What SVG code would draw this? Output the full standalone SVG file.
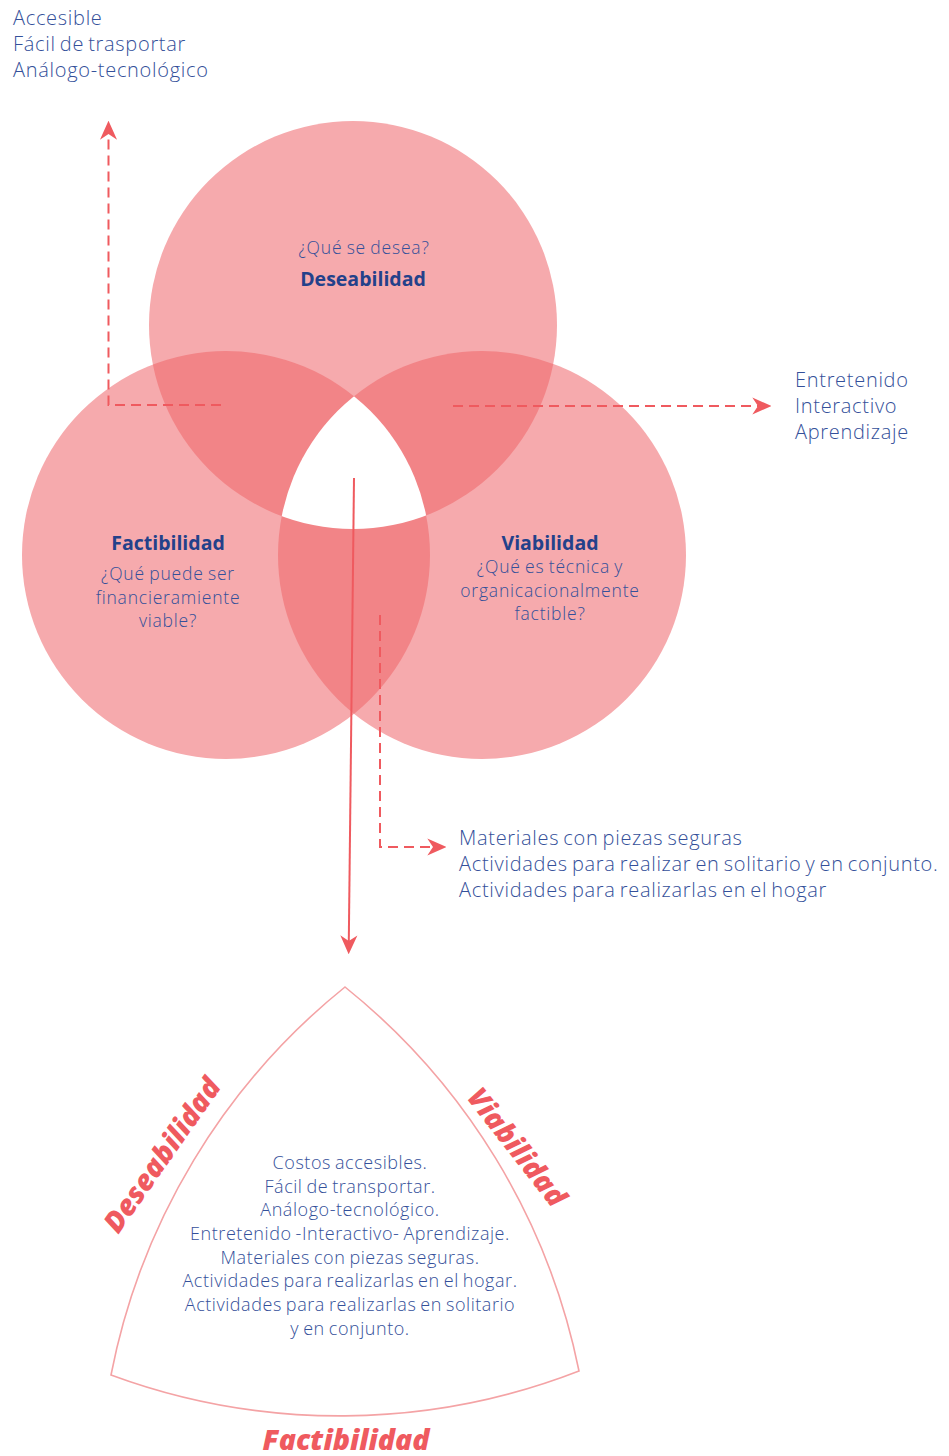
<svg xmlns="http://www.w3.org/2000/svg" width="949" height="1456" viewBox="0 0 949 1456">
<style>
.light{fill:#f6aaad}
.dark{fill:#f28487}
.t{font-family:"Open Sans","Liberation Sans",sans-serif;font-weight:300;fill:#34509a}
.n{letter-spacing:0.7px;word-spacing:-1.8px}
.c{letter-spacing:0.8px;word-spacing:-1px}
.i{letter-spacing:0.55px;word-spacing:-1.2px}
.b{font-family:"Open Sans","Liberation Sans",sans-serif;font-weight:700;fill:#23418a}
.lbl{font-family:"Open Sans","Liberation Sans",sans-serif;font-weight:800;font-style:italic;fill:#ef5a5f;font-size:28.5px}
.dash{fill:none;stroke:#ef5a5f;stroke-width:2;stroke-dasharray:10 6}
.solid{fill:none;stroke:#ef5a5f;stroke-width:2}
</style>
<defs>
<clipPath id="cT"><circle cx="353" cy="325" r="204"/></clipPath>
<clipPath id="cL"><circle cx="226" cy="555" r="204"/></clipPath>
<marker id="arr" viewBox="0 0 20 20" refX="6" refY="10" markerWidth="19" markerHeight="19" markerUnits="userSpaceOnUse" orient="auto">
<path d="M0,1 L20,10 L0,19 L6,10 Z" fill="#ef5a5f"/>
</marker>
</defs>

<g id="note-top-left" class="t n" font-size="20">
<text x="13" y="25">Accesible</text>
<text x="13" y="51">Fácil de trasportar</text>
<text x="13" y="77">Análogo-tecnológico</text>
</g>

<g id="node-deseabilidad">
<circle class="light" cx="353" cy="325" r="204"/>
<text class="t c" x="364" y="254" font-size="17.5" text-anchor="middle">¿Qué se desea?</text>
<text class="b" x="363" y="286" font-size="19.5" text-anchor="middle">Deseabilidad</text>
</g>

<g id="node-factibilidad">
<circle class="light" cx="226" cy="555" r="204"/>
<text class="b" x="168" y="550" font-size="19.5" text-anchor="middle">Factibilidad</text>
<text class="t c" x="168" y="580" font-size="17.5" text-anchor="middle">¿Qué puede ser</text>
<text class="t c" x="168" y="604" font-size="17.5" text-anchor="middle">financieramiente</text>
<text class="t c" x="168" y="627" font-size="17.5" text-anchor="middle">viable?</text>
</g>

<g id="node-viabilidad">
<circle class="light" cx="482" cy="555" r="204"/>
<text class="b" x="550" y="550" font-size="19.5" text-anchor="middle">Viabilidad</text>
<text class="t c" x="550" y="573" font-size="17.5" text-anchor="middle">¿Qué es técnica y</text>
<text class="t c" x="550" y="597" font-size="17.5" text-anchor="middle">organicacionalmente</text>
<text class="t c" x="550" y="620" font-size="17.5" text-anchor="middle">factible?</text>
</g>

<g id="overlaps">
<circle class="dark" cx="226" cy="555" r="204" clip-path="url(#cT)"/>
<circle class="dark" cx="482" cy="555" r="204" clip-path="url(#cT)"/>
<circle class="dark" cx="482" cy="555" r="204" clip-path="url(#cL)"/>
<g clip-path="url(#cT)"><circle fill="#ffffff" cx="482" cy="555" r="204" clip-path="url(#cL)"/></g>
</g>

<g id="note-right" class="t n" font-size="20">
<text x="795" y="387">Entretenido</text>
<text x="795" y="413">Interactivo</text>
<text x="795" y="439">Aprendizaje</text>
</g>

<g id="note-bottom" class="t n" font-size="20">
<text x="459" y="845">Materiales con piezas seguras</text>
<text x="459" y="871">Actividades para realizar en solitario y en conjunto.</text>
<text x="459" y="897">Actividades para realizarlas en el hogar</text>
</g>

<g id="connectors">
<path class="dash" d="M221,405 H108.5 V134" marker-end="url(#arr)"/>
<path class="dash" d="M453,406 H758" marker-end="url(#arr)"/>
<path class="dash" d="M380,615 V847 H433" marker-end="url(#arr)"/>
<path class="solid" d="M354,478 L348.8,941" marker-end="url(#arr)"/>
</g>

<g id="node-result">
<path d="M345,987 A660,660 0 0 0 111,1375 A660,660 0 0 0 579,1371 A660,660 0 0 0 345,987 Z" fill="#ffffff" stroke="#f4a3a5" stroke-width="1.6"/>
<text class="lbl" transform="translate(162,1155) rotate(-55)" x="0" y="10" text-anchor="middle">Deseabilidad</text>
<text class="lbl" transform="translate(517,1147) rotate(52)" x="0" y="10" text-anchor="middle">Viabilidad</text>
<text class="lbl" x="346" y="1450" text-anchor="middle">Factibilidad</text>
<g class="t i" font-size="18" text-anchor="middle">
<text x="350" y="1169">Costos accesibles.</text>
<text x="350" y="1193">Fácil de transportar.</text>
<text x="350" y="1216">Análogo-tecnológico.</text>
<text x="350" y="1240">Entretenido -Interactivo- Aprendizaje.</text>
<text x="350" y="1264">Materiales con piezas seguras.</text>
<text x="350" y="1287">Actividades para realizarlas en el hogar.</text>
<text x="350" y="1311">Actividades para realizarlas en solitario</text>
<text x="350" y="1335">y en conjunto.</text>
</g>
</g>
</svg>
